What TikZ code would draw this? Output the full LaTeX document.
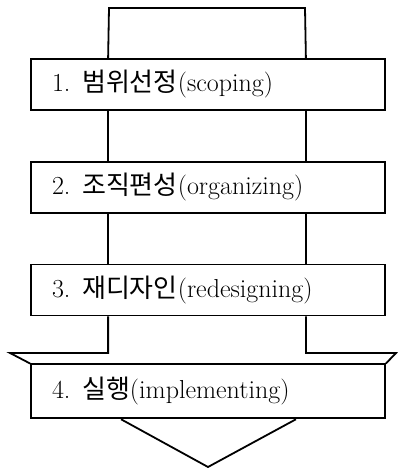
\documentclass[tikz,border=0pt]{standalone}
\usepackage{fontspec}
\usetikzlibrary{positioning}
\newfontfamily\kr{Noto Sans CJK KR}
\tikzset{>=stealth}

\begin{document}
\begin{tikzpicture}[x=1pt, y=1pt, line width=1.8pt, node distance=50pt,
    stage/.style={draw, fill=white, minimum height=51pt, text width=312pt,
        inner xsep=21pt, align=left, font=\fontsize{26}{30}\selectfont}]
    \useasboundingbox (0,0) rectangle (397,468);
    \node[stage] (s1) at (208,383.5) {1.\hspace{0.45em}{\kr 범위선정}(scoping)};
    \node[stage, below=of s1] (s2) {2.\hspace{0.45em}{\kr 조직편성}(organizing)};
    \node[stage, below=of s2] (s3) {3.\hspace{0.45em}{\kr 재디자인}(redesigning)};
    \node[stage, below=47pt of s3, minimum height=54pt] (s4) {4.\hspace{0.45em}{\kr 실행}(implementing)};
    \coordinate (topL) at (109,460);
    \coordinate (topR) at (305,460);
    \coordinate (wingL) at (10,115);
    \coordinate (wingR) at (396,115);
    \coordinate (tip) at (208,1);
    % shaft
    \draw ([xshift=78pt]s1.north west) -- (topL) -- (topR) -- ([xshift=-80pt]s1.north east);
    \foreach \a/\b in {s1/s2, s2/s3} {
        \draw ([xshift=78pt]\a.south west) -- ([xshift=78pt]\b.north west);
        \draw ([xshift=-80pt]\a.south east) -- ([xshift=-80pt]\b.north east);
    }
    % arrow head
    \draw ([xshift=78pt]s3.south west) |- (wingL) -- (s4.north west);
    \draw ([xshift=-80pt]s3.south east) |- (wingR) -- (s4.north east);
    \draw ([xshift=91pt]s4.south west) -- (tip) -- ([xshift=-90pt]s4.south east);
\end{tikzpicture}
\end{document}
